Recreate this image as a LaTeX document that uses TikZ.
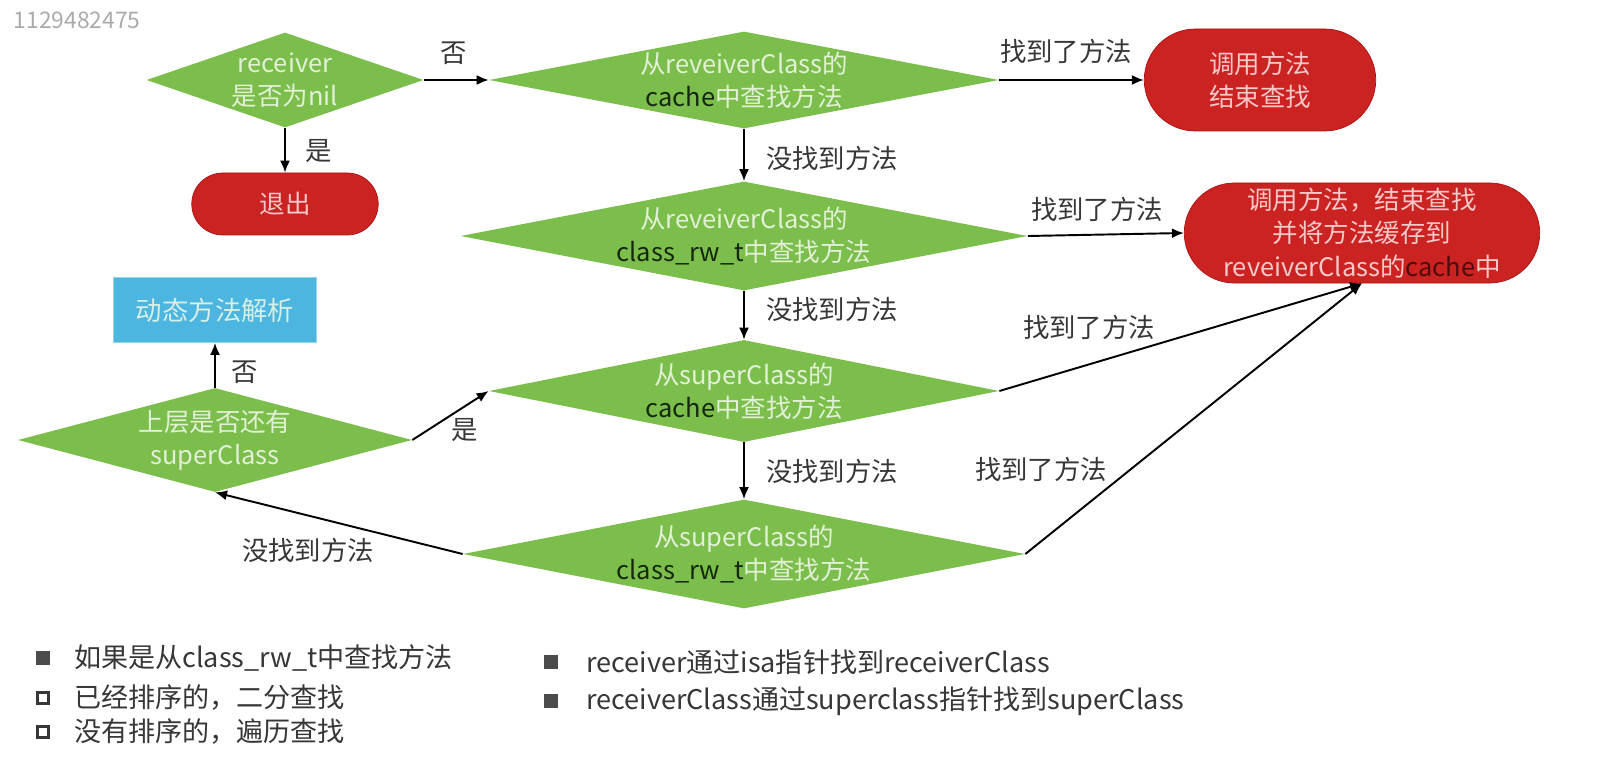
\documentclass[tikz,border=0pt]{standalone}
\usepackage{fontspec}
\setmainfont{Noto Sans CJK SC}
\usepackage{xcolor}
\usetikzlibrary{shapes.geometric,shapes.misc,arrows.meta}
\definecolor{flowgreen}{RGB}{124,190,76}
\definecolor{flowgreentxt}{RGB}{226,240,214}
\definecolor{flowdark}{RGB}{22,40,12}
\definecolor{flowred}{RGB}{203,34,34}
\definecolor{flowredline}{RGB}{170,20,20}
\definecolor{flowredtxt}{RGB}{246,200,200}
\definecolor{flowreddark}{RGB}{80,12,12}
\definecolor{flowblue}{RGB}{76,181,224}
\definecolor{flowbluetxt}{RGB}{214,240,232}
\definecolor{flowgray}{RGB}{55,55,55}
\definecolor{markgray}{RGB}{170,170,170}
\tikzset{
  decision/.style={diamond,fill=flowgreen,text=flowgreentxt,inner sep=0pt,align=center,
    font=\fontsize{14.5}{19}\selectfont},
  endnode/.style={rounded rectangle,fill=flowred,draw=flowredline,text=flowredtxt,align=center,
    inner sep=1pt,font=\fontsize{14.5}{19}\selectfont},
  procbox/.style={rectangle,fill=flowblue,draw=flowblue!60!white,text=flowbluetxt,
    font=\fontsize{15}{19}\selectfont},
  edgelabel/.style={text=flowgray,font=\fontsize{15}{19}\selectfont},
  notetext/.style={anchor=west,text=flowgray,font=\fontsize{15.4}{19}\selectfont},
  flow/.style={draw=black,line width=1.1pt,-{Latex[length=2.4mm,width=2mm]}},
  fullbox/.style={fill=flowgray!90,minimum size=0.27cm,inner sep=0pt},
  openbox/.style={draw=flowgray,line width=1.7pt,fill=white,minimum size=0.22cm,inner sep=0pt}
}
\newcommand{\dk}[1]{{\color{flowdark}#1}}

\begin{document}
\begin{tikzpicture}
    \useasboundingbox[fill=white] (0,0) rectangle (32,15.2);
    \node[anchor=west,text=markgray,font=\fontsize{13}{15}\selectfont] (mark) at (0.15,14.8) {1129482475};

    % Decisions
    \node[decision,minimum width=5.54cm,minimum height=1.9cm,aspect=2.9] (nilchk) at (5.7,13.6)
        {receiver\\是否为nil};
    \node[decision,minimum width=10.2cm,minimum height=1.94cm,aspect=5.2] (rcache) at (14.88,13.6)
        {从reveiverClass的\\\dk{cache}中查找方法};
    \node[decision,minimum width=11.34cm,minimum height=2.18cm,aspect=5.2] (rrw) at (14.88,10.48)
        {从reveiverClass的\\\dk{class\_rw\_t}中查找方法};
    \node[decision,minimum width=10.2cm,minimum height=2.04cm,aspect=5] (scache) at (14.88,7.38)
        {从superClass的\\\dk{cache}中查找方法};
    \node[decision,minimum width=11.24cm,minimum height=2.18cm,aspect=5.2] (srw) at (14.88,4.12)
        {从superClass的\\\dk{class\_rw\_t}中查找方法};
    \node[decision,minimum width=7.88cm,minimum height=2.08cm,aspect=3.8] (hassup) at (4.3,6.4)
        {上层是否还有\\superClass};

    % End points
    \node[endnode,minimum width=3.8cm,minimum height=1.24cm] (quit) at (5.7,11.12) {退出};
    \node[endnode,minimum width=4.7cm,minimum height=2.04cm] (callA) at (25.2,13.6)
        {调用方法\\结束查找};
    \node[endnode,minimum width=7.18cm,minimum height=2cm] (callB) at (27.24,10.54)
        {调用方法，结束查找\\并将方法缓存到\\reveiverClass的{\color{flowreddark}cache}中};
    \node[procbox,minimum width=4.06cm,minimum height=1.3cm] (resolve) at (4.3,9.0) {动态方法解析};

    % Connectors
    \draw[flow] (nilchk.east) -- (rcache.west);
    \draw[flow] (nilchk.south) -- (quit.north);
    \draw[flow] (rcache.east) -- (callA.west);
    \draw[flow] (rcache.south) -- (rrw.north);
    \draw[flow] (rrw.east) -- (callB.west);
    \draw[flow] (rrw.south) -- (scache.north);
    \draw[flow] (scache.east) -- (callB.south);
    \draw[flow] (scache.south) -- (srw.north);
    \draw[flow] (srw.east) -- (callB.south);
    \draw[flow] (srw.west) -- (hassup.south);
    \draw[flow] (hassup.east) -- (scache.west);
    \draw[flow] (hassup.north) -- (resolve.south);

    % Edge labels
    \node[edgelabel] (noA) at (9.08,14.14) {否};
    \node[edgelabel] (yesA) at (6.38,12.18) {是};
    \node[edgelabel] (foundA) at (21.32,14.18) {找到了方法};
    \node[edgelabel] (missA) at (16.64,12.04) {没找到方法};
    \node[edgelabel] (foundB) at (21.94,11.02) {找到了方法};
    \node[edgelabel] (missB) at (16.64,9.02) {没找到方法};
    \node[edgelabel] (foundC) at (21.78,8.66) {找到了方法};
    \node[edgelabel] (missC) at (16.64,5.78) {没找到方法};
    \node[edgelabel] (foundD) at (20.82,5.82) {找到了方法};
    \node[edgelabel] (yesB) at (9.3,6.6) {是};
    \node[edgelabel] (noB) at (4.9,7.76) {否};
    \node[edgelabel] (missD) at (6.16,4.2) {没找到方法};

    % Notes
    \node[fullbox] (bulA) at (0.86,2.04) {};
    \node[notetext] (noteA) at (1.36,2.04) {如果是从class\_rw\_t中查找方法};
    \node[openbox] (bulB) at (0.86,1.24) {};
    \node[notetext] (noteB) at (1.36,1.24) {已经排序的，二分查找};
    \node[openbox] (bulC) at (0.86,0.56) {};
    \node[notetext] (noteC) at (1.36,0.56) {没有排序的，遍历查找};
    \node[fullbox] (bulD) at (11.02,1.96) {};
    \node[notetext] (noteD) at (11.6,1.96) {receiver通过isa指针找到receiverClass};
    \node[fullbox] (bulE) at (11.02,1.18) {};
    \node[notetext] (noteE) at (11.6,1.18) {receiverClass通过superclass指针找到superClass};
\end{tikzpicture}
\end{document}
